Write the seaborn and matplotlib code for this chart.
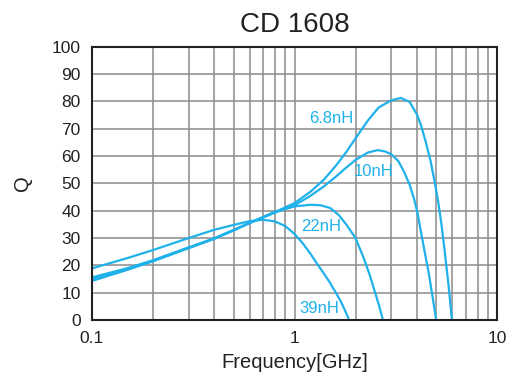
import matplotlib
matplotlib.use("Agg")
import matplotlib.pyplot as plt
import seaborn as sns
import pandas as pd

# Data
f_68 = [0.1, 0.15, 0.2, 0.3, 0.4, 0.5, 0.6, 0.8, 1.0, 1.2, 1.4, 1.6, 1.8, 2.0, 2.3, 2.6,
        3.0, 3.35, 3.7, 4.0, 4.2, 4.45, 4.7, 4.9, 5.1, 5.3, 5.5, 5.75, 5.98]
q_68 = [14.3, 18.4, 21.5, 26.3, 29.7, 32.8, 35.5, 39.5, 42.8, 47.0, 51.5, 56.5, 61.5, 66.5, 73.0, 77.8,
        80.4, 81.3, 79.8, 75.5, 71.5, 65.0, 58.0, 51.0, 44.0, 35.5, 25.6, 13.0, 0.0]

f_10 = [0.1, 0.15, 0.2, 0.3, 0.4, 0.5, 0.6, 0.8, 1.0, 1.2, 1.4, 1.6, 1.8, 2.0, 2.3, 2.57,
        2.8, 3.0, 3.25, 3.46, 3.7, 3.9, 4.05, 4.2, 4.4, 4.6, 4.8, 5.0]
q_10 = [14.9, 18.7, 21.6, 26.4, 29.7, 32.8, 35.5, 39.3, 42.0, 45.5, 49.0, 52.5, 55.8, 58.6, 61.3, 62.2,
        61.7, 60.7, 58.2, 54.5, 49.5, 44.0, 39.0, 32.5, 24.5, 17.0, 8.5, 0.0]

f_22 = [0.1, 0.15, 0.2, 0.3, 0.4, 0.5, 0.6, 0.8, 1.0, 1.2, 1.35, 1.5, 1.65, 1.8, 2.0, 2.2,
        2.35, 2.5, 2.62, 2.73]
q_22 = [15.6, 19.0, 21.9, 26.6, 29.9, 33.0, 35.6, 39.6, 41.6, 42.2, 42.0, 41.0, 38.5, 35.0, 30.0, 22.5,
        16.5, 10.0, 5.0, 0.0]

f_39 = [0.1, 0.15, 0.2, 0.3, 0.4, 0.5, 0.6, 0.7, 0.8, 0.9, 1.0, 1.1, 1.2, 1.3, 1.4, 1.5,
        1.6, 1.7, 1.78, 1.86]
q_39 = [18.9, 22.7, 25.6, 30.0, 33.0, 34.8, 36.2, 36.7, 36.1, 34.4, 31.5, 28.0, 24.2, 20.3, 16.9, 13.5,
        10.0, 6.5, 3.3, 0.0]

series = ["6.8nH", "10nH", "22nH", "39nH"]
freqs = [f_68, f_10, f_22, f_39]
qs = [q_68, q_10, q_22, q_39]
label_f = [1.52, 2.46, 1.36, 1.33]
label_q = [73.6, 54.2, 34.4, 4.2]

df = pd.concat([pd.DataFrame({"Frequency": f, "Q": q, "L": s})
                for s, f, q in zip(series, freqs, qs)], ignore_index=True)

plt.rcParams['font.family'] = ['Liberation Sans', 'DejaVu Sans']
fig = plt.figure(figsize=(5.25, 3.87), dpi=100)
ax = fig.add_axes([0.175, 0.173, 0.772, 0.706])

color = '#1fb1ea'
sns.lineplot(data=df, x="Frequency", y="Q", hue="L", palette=[color]*4,
             estimator=None, sort=False, legend=False, linewidth=1.6, ax=ax)

ax.set_xscale('log')
ax.set_xlim(0.1, 10)
ax.set_ylim(0, 100)
ax.set_yticks(range(0, 101, 10))
ax.set_xticks([0.1, 1, 10])
ax.set_xticklabels(["0.1", "1", "10"])
ax.xaxis.set_minor_formatter(matplotlib.ticker.NullFormatter())
ax.grid(True, which='both', color='#8c8c8c', linewidth=1.1)
ax.tick_params(which='both', length=0, labelsize=12.5, colors='#222222', pad=8)
for sp in ax.spines.values():
    sp.set_color('#222222')
    sp.set_linewidth(1.5)

ax.set_xlabel("Frequency[GHz]", fontsize=14.5, color='#222222', labelpad=5)
ax.set_ylabel("Q", fontsize=14.5, color='#222222', labelpad=14)
ax.set_title("CD 1608", fontsize=20, color='#222222', pad=11)

for t, x, y in zip(series, label_f, label_q):
    ax.text(x, y, t, color=color, fontsize=12, ha='center', va='center')

fig.savefig("out.png", dpi=100)
